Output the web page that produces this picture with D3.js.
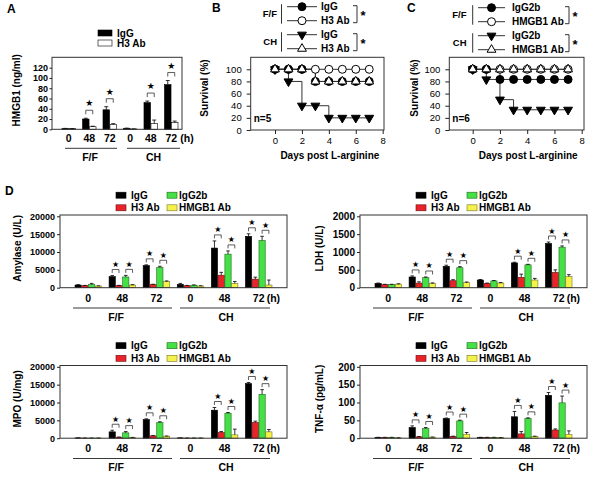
<!DOCTYPE html>
<html><head><meta charset="utf-8">
<script src="https://cdn.jsdelivr.net/npm/d3@7"></script>
<style>
body{margin:0;background:#fff;}
svg{font-family:"Liberation Sans",Arial,sans-serif;}
</style></head><body>
<svg id="chart" width="600" height="480"></svg>
<script>
// ---------------- Panel A data ----------------
const aGroups = ["0","48","72","0","48","72"];
const aSeries = ["IgG","H3 Ab"];
const aIgG    = [1.5, 20, 38, 2, 52, 87];
const aIgGErr = [0.3, 1.5, 6, 0.3, 3, 8];
const aH3     = [1.2, 5, 9.5, 0.6, 11, 13];
const aH3Err  = [0.3, 1, 1.5, 0.2, 7, 3];
const aTicks  = [0,20,40,60,80,100,120];
const aSigGroups = [1,2,4,5];

// ---------------- Panels B / C data ----------------
const days = [0,1,2,3,4,5,6,7];
const dayTicks = [0,2,4,6,8];
const survTicks = [0,20,40,60,80,100];
const bFFIgG = [100,100,100,80,80,80,80,80];
const bFFH3  = [100,100,100,100,100,100,100,100];
const bCHIgG = [100,80,40,40,20,20,20,20];
const bCHH3  = [100,100,100,80,80,80,80,80];
const cFFIgG2b = [100,100,83.3,83.3,83.3,83.3,83.3,83.3];
const cFFHMGB1 = [100,100,100,100,100,100,100,100];
const cCHIgG2b = [100,83.3,50,33.3,33.3,33.3,33.3,33.3];
const cCHHMGB1 = [100,100,100,100,100,100,100,100];

// ---------------- Panel D data ----------------
const dGroups = ["0","48","72","0","48","72"];
const dSeries = ["IgG","H3 Ab","IgG2b","HMGB1 Ab"];
const dSigGroups = [1,2,4,5];

const amyIgG = [750, 3100, 6200, 950, 11100, 14400];
const amyIgGErr = [100, 300, 200, 250, 2000, 700];
const amyH3 = [560, 560, 850, 560, 3500, 2400];
const amyH3Err = [80, 100, 120, 80, 800, 550];
const amyG2b = [900, 3000, 5700, 700, 9400, 13200];
const amyG2bErr = [300, 450, 300, 80, 900, 1200];
const amyHM = [470, 750, 1700, 470, 1200, 750];
const amyHMErr = [60, 100, 200, 80, 550, 1400];
const amyTicks = [0,5000,10000,15000,20000];

const ldhIgG = [120, 300, 600, 215, 695, 1240];
const ldhIgGErr = [10, 30, 30, 15, 20, 40];
const ldhH3 = [85, 130, 195, 120, 290, 425];
const ldhH3Err = [10, 35, 30, 10, 90, 75];
const ldhG2b = [85, 280, 560, 190, 640, 1135];
const ldhG2bErr = [10, 20, 30, 10, 15, 35];
const ldhHM = [100, 120, 140, 130, 215, 310];
const ldhHMErr = [10, 15, 20, 15, 45, 55];
const ldhTicks = [0,500,1000,1500,2000];

const mpoIgG = [80, 1780, 5230, 80, 7850, 15300];
const mpoIgGErr = [20, 450, 200, 20, 750, 300];
const mpoH3 = [40, 280, 650, 40, 1590, 4390];
const mpoH3Err = [10, 50, 80, 10, 280, 380];
const mpoG2b = [40, 1500, 4400, 40, 7000, 12300];
const mpoG2bErr = [10, 350, 200, 10, 200, 1300];
const mpoHM = [40, 190, 560, 40, 930, 1780];
const mpoHMErr = [10, 40, 60, 10, 1600, 650];
const mpoTicks = [0,5000,10000,15000,20000];

const tnfIgG = [2, 30, 55, 2, 60, 120];
const tnfIgGErr = [0.5, 4.5, 1.5, 0.5, 15, 8];
const tnfH3 = [2, 3.7, 4.7, 2, 12, 23];
const tnfH3Err = [0.5, 1, 1, 0.5, 6.5, 3];
const tnfG2b = [2, 27, 48.5, 2, 55, 99];
const tnfG2bErr = [0.5, 3, 2, 0.5, 2, 19];
const tnfHM = [1, 2.8, 11, 1.5, 4.7, 11];
const tnfHMErr = [0.3, 0.5, 5, 0.3, 1, 9.5];
const tnfTicks = [0,50,100,150,200];

// ---------------- drawing ----------------
const svg = d3.select("#chart");
const FONT = "'Liberation Sans', Arial, sans-serif";
const STARFONT = "'DejaVu Sans', sans-serif";

function txt(g, x, y, s, o = {}) {
  const t = g.append("text").attr("x", x).attr("y", y).text(s)
    .attr("font-family", o.family || FONT)
    .attr("font-size", o.fs || 10)
    .attr("font-weight", o.w || "bold")
    .attr("text-anchor", o.anchor || "start")
    .attr("fill", o.fill || "#000");
  if (o.rot) t.attr("transform", `rotate(-90,${x},${y})`);
  if (o.db) t.attr("dominant-baseline", o.db);
  return t;
}

function styleAxis(sel, fs, w) {
  sel.attr("font-size", null).attr("font-family", null);
  sel.select(".domain").remove();
  sel.selectAll(".tick line").attr("stroke", "#222");
  sel.selectAll(".tick text").attr("font-size", fs).attr("font-weight", w)
    .attr("font-family", FONT).attr("fill", "#000");
}

function barPanel(o) {
  const g = svg.append("g");
  const x0 = d3.scaleBand().domain(d3.range(o.groups.length))
    .range([o.l + o.padL, o.r - o.padR]).paddingInner(o.pIn);
  const x1 = d3.scaleBand().domain(d3.range(o.vals.length))
    .range([0, x0.bandwidth()]).paddingInner(o.pBar);
  const y = d3.scaleLinear().domain([0, o.tickMax]).range([o.b, o.tickMaxY]);

  o.vals.forEach((arr, si) => {
    g.selectAll(null).data(arr).enter().append("rect")
      .attr("x", (d, i) => x0(i) + x1(si)).attr("width", x1.bandwidth())
      .attr("y", d => y(d)).attr("height", d => o.b - y(d))
      .attr("fill", o.colors[si]).attr("stroke", o.strokes[si]).attr("stroke-width", 0.6);
    g.selectAll(null).data(arr).enter().append("path")
      .attr("d", (d, i) => {
        const cx = x0(i) + x1(si) + x1.bandwidth() / 2;
        const y1 = y(d), y2 = y(d + o.errs[si][i]);
        const c = o.cap;
        return `M${cx},${y1}V${y2}M${cx - c},${y2}H${cx + c}`;
      })
      .attr("stroke", "#000").attr("stroke-width", 0.8).attr("fill", "none");
  });

  // frame
  g.append("rect").attr("x", o.l).attr("y", o.t).attr("width", o.r - o.l).attr("height", o.b - o.t)
    .attr("fill", "none").attr("stroke", "#333").attr("stroke-width", 1);

  // y axis
  const ax = g.append("g").attr("transform", `translate(${o.l},0)`)
    .call(d3.axisLeft(y).tickValues(o.ticks).tickFormat(d3.format("d")).tickSize(o.tickSize).tickPadding(o.tickPad));
  styleAxis(ax, o.tickFs, "bold");

  // y title
  txt(g, o.titleX, (o.t + o.b) / 2 - 3, o.title, { fs: 10, anchor: "middle", rot: true });

  // x labels
  o.groups.forEach((lab, i) => {
    const cx = x0(i) + x0.bandwidth() / 2;
    txt(g, cx, o.b + o.labDy, lab, { fs: 10.5, anchor: "middle" });
    if (i === o.groups.length - 1) txt(g, cx + o.hDx, o.b + o.labDy, "(h)", { fs: 10.5 });
  });
  // group lines + labels
  o.groupLines.forEach(gl => {
    g.append("line").attr("x1", gl[0]).attr("x2", gl[1]).attr("y1", o.b + o.lineDy).attr("y2", o.b + o.lineDy)
      .attr("stroke", "#222").attr("stroke-width", 0.9);
    txt(g, gl[2], o.b + o.grpDy, gl[3], { fs: 10.5, anchor: "middle" });
  });

  // significance brackets
  o.sigGroups.forEach(gi => o.pairs.forEach(([a, b]) => {
    const top = Math.min(y(o.vals[a][gi] + o.errs[a][gi]), y(o.vals[b][gi] + o.errs[b][gi]));
    const xa = x0(gi) + x1(a) + x1.bandwidth() / 2;
    const xb = x0(gi) + x1(b) + x1.bandwidth() / 2;
    const by = top - o.gap;
    g.append("path").attr("d", `M${xa},${by + o.leg}V${by}H${xb}V${by + o.leg}`)
      .attr("fill", "none").attr("stroke", "#333").attr("stroke-width", 0.8);
    txt(g, (xa + xb) / 2, by - o.starOff, "★", { fs: o.starFs, anchor: "middle", family: STARFONT, w: "normal", db: "central" });
  }));

  // legend
  o.legend.forEach(L => {
    g.append("rect").attr("x", L.x).attr("y", L.y - L.h / 2).attr("width", L.w).attr("height", L.h)
      .attr("fill", o.colors[L.si]).attr("stroke", o.strokes[L.si]).attr("stroke-width", 0.6);
    txt(g, L.tx, L.y + 3.6, o.series[L.si], { fs: 10 });
  });
}

// Panel A
txt(svg, 7, 13.3, "A", { fs: 12 });
barPanel({
  l: 52, r: 182, t: 57.3, b: 129.3, padL: 10, padR: 4, pIn: 0.34, pBar: 0.06,
  groups: aGroups, series: aSeries,
  vals: [aIgG, aH3], errs: [aIgGErr, aH3Err],
  colors: ["#000", "#fff"], strokes: ["#000", "#000"],
  tickMax: 120, tickMaxY: 67.7, ticks: aTicks, tickSize: 2.5, tickPad: 1.5, tickFs: 9,
  title: "HMGB1 (ng/ml)", titleX: 20,
  labDy: 12.8, hDx: 9, lineDy: 19, grpDy: 31.3,
  groupLines: [[65, 117, 90, "F/F"], [127, 180, 153.5, "CH"]],
  sigGroups: aSigGroups, pairs: [[0, 1]], gap: 8, leg: 4, starOff: 7, starFs: 9, cap: 2,
  legend: [{ si: 0, x: 98, y: 33, w: 14, h: 6, tx: 117 }, { si: 1, x: 98, y: 43, w: 14, h: 6, tx: 117 }]
});

// Panel D
const dColors = ["#000000", "#e8242a", "#45e045", "#f4f24a"];
const dStrokes = ["#000", "#6a1010", "#1d6a1d", "#77752a"];
function dPanel(l, t, title, titleX, vals, errs, ticks, tickFs) {
  const r = l + 227, b = t + 72.7;
  barPanel({
    l, r, t, b, padL: 15, padR: 15, pIn: 0.22, pBar: 0.08,
    groups: dGroups, series: dSeries, vals, errs,
    colors: dColors, strokes: dStrokes,
    tickMax: ticks[ticks.length - 1], tickMaxY: t + 1.3, ticks, tickSize: 3, tickPad: 2, tickFs,
    title, titleX,
    labDy: 14, hDx: 8, lineDy: 20.3, grpDy: 33,
    groupLines: [[l + 13, l + 112, l + 56, "F/F"], [l + 120, l + 210, l + 166, "CH"]],
    sigGroups: dSigGroups, pairs: [[0, 1], [2, 3]], gap: 6, leg: 3.5, starOff: 5, starFs: 8, cap: 1.8,
    legend: [
      { si: 0, x: l + 56, y: t - 19.8, w: 10, h: 6, tx: l + 71 },
      { si: 2, x: l + 107, y: t - 19.8, w: 10, h: 6, tx: l + 119 },
      { si: 1, x: l + 56, y: t - 7.2, w: 10, h: 6, tx: l + 71 },
      { si: 3, x: l + 107, y: t - 7.2, w: 10, h: 6, tx: l + 119 }
    ]
  });
}
txt(svg, 5, 195, "D", { fs: 12 });
dPanel(60, 215, "Amylase (U/L)", 21, [amyIgG, amyH3, amyG2b, amyHM], [amyIgGErr, amyH3Err, amyG2bErr, amyHMErr], amyTicks, 9);
dPanel(360, 215, "LDH (U/L)", 323, [ldhIgG, ldhH3, ldhG2b, ldhHM], [ldhIgGErr, ldhH3Err, ldhG2bErr, ldhHMErr], ldhTicks, 10);
dPanel(60, 365.5, "MPO (U/mg)", 21, [mpoIgG, mpoH3, mpoG2b, mpoHM], [mpoIgGErr, mpoH3Err, mpoG2bErr, mpoHMErr], mpoTicks, 9);
dPanel(360, 365.5, "TNF-α (pg/mL)", 323, [tnfIgG, tnfH3, tnfG2b, tnfHM], [tnfIgGErr, tnfH3Err, tnfG2bErr, tnfHMErr], tnfTicks, 10);

// Survival panels
const symCircle = d3.symbol().type(d3.symbolCircle).size(50);
const symTri = d3.symbol().type(d3.symbolTriangle).size(34);
function marker(g, x, y, kind) {
  const p = g.append("path").attr("stroke", "#000").attr("stroke-width", 1);
  if (kind === "fc") p.attr("d", symCircle()).attr("fill", "#000");
  if (kind === "oc") p.attr("d", symCircle()).attr("fill", "#fff");
  if (kind === "dt") p.attr("d", symTri()).attr("fill", "#000");
  if (kind === "ut") p.attr("d", symTri()).attr("fill", "#fff");
  p.attr("transform", `translate(${x},${y})` + (kind === "dt" ? " rotate(180)" : ""));
  return p;
}

function survPanel(o) {
  const g = svg.append("g");
  const x = d3.scaleLinear().domain([0, 8]).range([o.x0, o.x8]);
  const y = d3.scaleLinear().domain([0, 100]).range([130, 69.3]);
  g.append("rect").attr("x", o.l).attr("y", 57.3).attr("width", o.r - o.l).attr("height", 130 - 57.3)
    .attr("fill", "none").attr("stroke", "#333");
  const ax = g.append("g").attr("transform", "translate(0,130)")
    .call(d3.axisBottom(x).tickValues(dayTicks).tickSize(4).tickPadding(3));
  styleAxis(ax, 9.5, "normal");
  const ay = g.append("g").attr("transform", `translate(${o.l},0)`)
    .call(d3.axisLeft(y).tickValues(survTicks).tickSize(4).tickPadding(o.yPad));
  styleAxis(ay, 9.5, "normal");
  txt(g, o.ytx, 88, "Survival (%)", { fs: 10, anchor: "middle", rot: true });
  txt(g, (o.x0 + o.x8) / 2 + 1, 159, "Days post L-arginine", { fs: 10, anchor: "middle" });
  txt(g, o.l + 3, 122, o.n, { fs: 10 });

  const line = d3.line().x((d, i) => x(days[i])).y(d => y(d)).curve(d3.curveStepAfter);
  o.series.forEach(s => g.append("path").attr("d", line(s.vals)).attr("fill", "none")
    .attr("stroke", "#333").attr("stroke-width", 1));
  o.series.forEach(s => s.vals.forEach((v, i) => marker(g, x(days[i]), y(v), s.kind)));

  // legend
  const L = o.leg;
  const rows = [L.y0, L.y0 + 14, L.y0 + 28, L.y0 + 42];
  [["F/F", 0], ["CH", 2]].forEach(([lab, k]) => {
    txt(g, L.labX, (rows[k] + rows[k + 1]) / 2 + 3.6, lab, { fs: 9.5, anchor: "end" });
    g.append("line").attr("x1", L.barX).attr("x2", L.barX).attr("y1", rows[k] - 2.5).attr("y2", rows[k + 1] + 3)
      .attr("stroke", "#333");
    g.append("path").attr("d", `M${L.brX - 4},${rows[k] - 1}H${L.brX}V${rows[k + 1] + 2}H${L.brX - 4}`)
      .attr("fill", "none").attr("stroke", "#333");
    txt(g, L.brX + 6, (rows[k] + rows[k + 1]) / 2 + 6, "*", { fs: 13, anchor: "middle" });
  });
  o.series.forEach((s, i) => {
    const ry = rows[s.row];
    g.append("line").attr("x1", L.lx1).attr("x2", L.lx2).attr("y1", ry).attr("y2", ry).attr("stroke", "#333");
    marker(g, (L.lx1 + L.lx2) / 2, ry, s.kind);
    txt(g, L.tx, ry + 3.6, s.name, { fs: 10 });
  });
}

txt(svg, 212, 12, "B", { fs: 12 });
survPanel({
  l: 250.7, r: 384, x0: 275, x8: 382.7, yPad: 5, ytx: 208, n: "n=5",
  series: [
    { vals: bFFH3, kind: "oc", name: "H3 Ab", row: 1 },
    { vals: bFFIgG, kind: "fc", name: "IgG", row: 0 },
    { vals: bCHIgG, kind: "dt", name: "IgG", row: 2 },
    { vals: bCHH3, kind: "ut", name: "H3 Ab", row: 3 }
  ],
  leg: { y0: 6.7, labX: 277, barX: 281.5, lx1: 287, lx2: 317, tx: 321, brX: 357 }
});

txt(svg, 407, 12, "C", { fs: 12 });
survPanel({
  l: 449.3, r: 584, x0: 472.7, x8: 581.7, yPad: 5, ytx: 418, n: "n=6",
  series: [
    { vals: cFFHMGB1, kind: "oc", name: "HMGB1 Ab", row: 1 },
    { vals: cFFIgG2b, kind: "fc", name: "IgG2b", row: 0 },
    { vals: cCHIgG2b, kind: "dt", name: "IgG2b", row: 2 },
    { vals: cCHHMGB1, kind: "ut", name: "HMGB1 Ab", row: 3 }
  ],
  leg: { y0: 7.7, labX: 466.5, barX: 472.7, lx1: 478, lx2: 505, tx: 512, brX: 569 }
});
</script>
</body></html>
